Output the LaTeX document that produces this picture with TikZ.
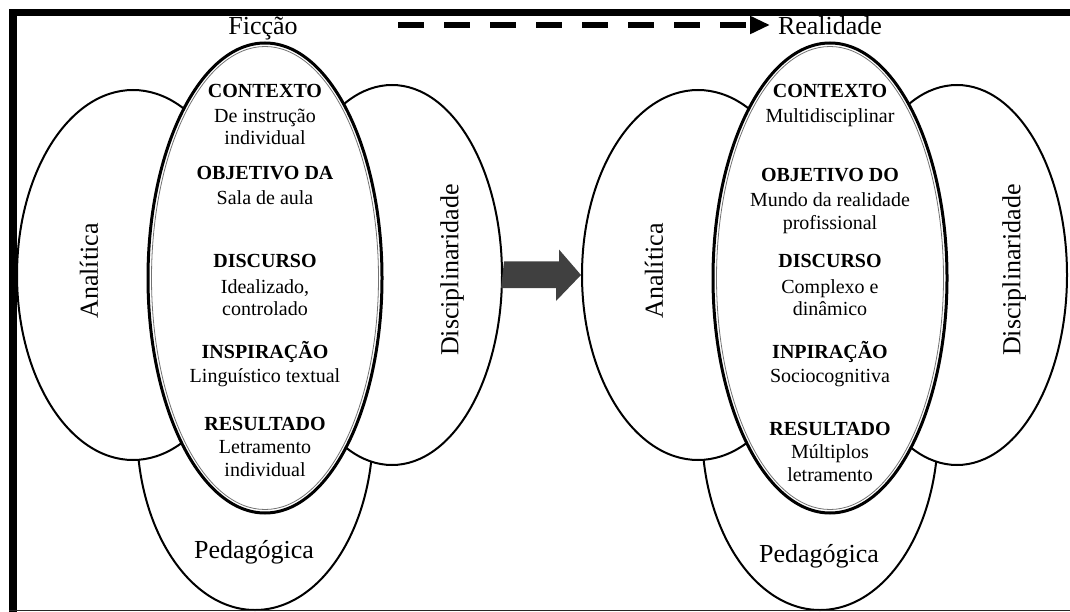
\documentclass[tikz,border=0pt]{standalone}
\usepackage{fontspec}
\setmainfont{Liberation Serif}
\usetikzlibrary{shapes.geometric,arrows.meta}

\begin{document}
\begin{tikzpicture}[x=1pt,y=-1pt,
  lobe/.style={ellipse, draw=black, line width=2pt, fill=white, inner sep=0pt},
  core/.style={ellipse, draw=black, line width=3pt, fill=white, inner sep=0pt,
               minimum width=234pt, minimum height=470pt},
  coreline/.style={draw=black!55, line width=0.8pt},
  side/.style={font=\fontsize{26}{30}\selectfont, inner sep=0pt},
  hd/.style={font=\fontsize{20}{24}\selectfont\bfseries, anchor=base, inner sep=0pt},
  tx/.style={font=\fontsize{20}{24}\selectfont, anchor=base, inner sep=0pt},
  ttl/.style={font=\fontsize{26}{30}\selectfont, anchor=base, inner sep=0pt},
]
\useasboundingbox (0,0) rectangle (1070,612);

% ---------- left group ----------
\node[lobe, minimum width=236pt, minimum height=360pt] (pedL) at (255,430) {};
\node[lobe, minimum width=232pt, minimum height=370pt] (anaL) at (133,275) {};
\node[lobe, minimum width=220pt, minimum height=380pt] (disL) at (392,275) {};
\node[core] (coreL) at (265,278) {};
\draw[coreline] (coreL.center) ellipse [x radius=113.5pt, y radius=231.5pt];

\node[side] (tpedL) at (254,552) {Pedagógica};
\node[side, rotate=90] (tanaL) at (89,271) {Analítica};
\node[side, rotate=90] (tdisL) at (452,270) {Disciplinaridade};

\node[hd] (l1h) at (265,98)  {CONTEXTO};
\node[tx] (l1a) at (265,123) {De instrução};
\node[tx] (l1b) at (265,145) {individual};
\node[hd] (l2h) at (265,180) {OBJETIVO DA};
\node[tx] (l2a) at (265,205) {Sala de aula};
\node[hd] (l3h) at (265,268) {DISCURSO};
\node[tx] (l3a) at (265,293) {Idealizado,};
\node[tx] (l3b) at (265,315) {controlado};
\node[hd] (l4h) at (265,358) {INSPIRAÇÃO};
\node[tx] (l4a) at (265,382) {Linguístico textual};
\node[hd] (l5h) at (265,430) {RESULTADO};
\node[tx] (l5a) at (265,453) {Letramento};
\node[tx] (l5b) at (265,476) {individual};

% ---------- right group ----------
\node[lobe, minimum width=236pt, minimum height=360pt] (pedR) at (820,430) {};
\node[lobe, minimum width=232pt, minimum height=370pt] (anaR) at (698,275) {};
\node[lobe, minimum width=220pt, minimum height=380pt] (disR) at (957,275) {};
\node[core] (coreR) at (830,278) {};
\draw[coreline] (coreR.center) ellipse [x radius=113.5pt, y radius=231.5pt];

\node[side] (tpedR) at (819,556) {Pedagógica};
\node[side, rotate=90] (tanaR) at (654,271) {Analítica};
\node[side, rotate=90] (tdisR) at (1014,270) {Disciplinaridade};

\node[hd] (r1h) at (830,98)  {CONTEXTO};
\node[tx] (r1a) at (830,123) {Multidisciplinar};
\node[hd] (r2h) at (830,182) {OBJETIVO DO};
\node[tx] (r2a) at (830,207) {Mundo da realidade};
\node[tx] (r2b) at (830,230) {profissional};
\node[hd] (r3h) at (830,268) {DISCURSO};
\node[tx] (r3a) at (830,293) {Complexo e};
\node[tx] (r3b) at (830,315) {dinâmico};
\node[hd] (r4h) at (830,358) {INPIRAÇÃO};
\node[tx] (r4a) at (830,382) {Sociocognitiva};
\node[hd] (r5h) at (830,435) {RESULTADO};
\node[tx] (r5a) at (830,458) {Múltiplos};
\node[tx] (r5b) at (830,481) {letramento};

% ---------- block arrow between the groups ----------
\fill[black!75] (disL.east) ++(1,-13.5) -- ++(55,0) -- ++(0,-12) -- (anaR.west)
      -- ++(-25,26) -- ++(0,-13) -- ++(-55,0) -- cycle;

% ---------- titles and dashed arrow ----------
\node[ttl] (fic) at (263,35) {Ficção};
\node[ttl] (real) at (830,35) {Realidade};
\coordinate (dstart) at (398,25);
\coordinate (dend) at (770,25);
\draw[line width=6pt, dash pattern=on 26pt off 20pt,
      -{Triangle[length=20pt,width=17pt]}] (dstart) -- (dend);

% ---------- frame ----------
\fill[black] (9,9) rectangle (1070,16.5);
\fill[black] (9,9) rectangle (16.5,612);
\draw[black!85, line width=1.5pt] (9,610.5) -- (1070,610.5);
\end{tikzpicture}
\end{document}
